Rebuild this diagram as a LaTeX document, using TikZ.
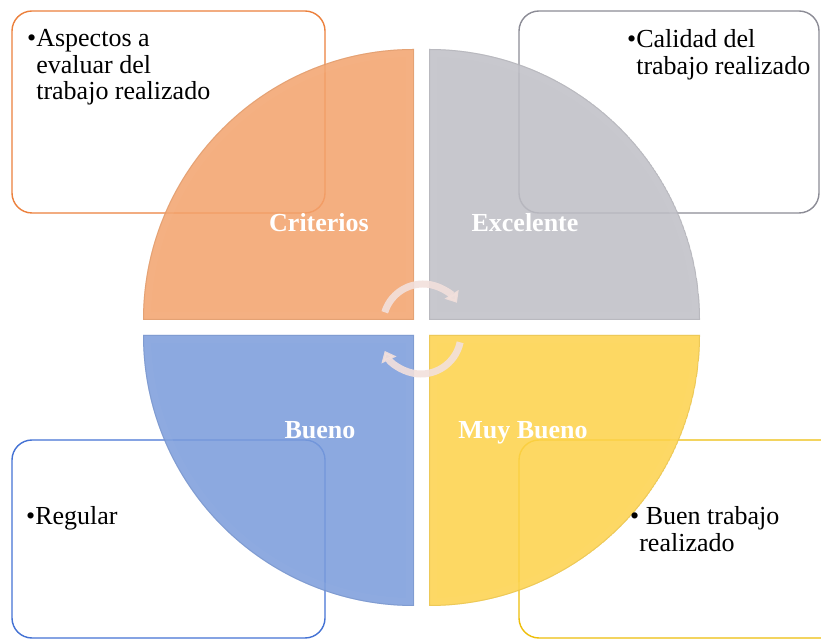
\documentclass[tikz,border=0pt]{standalone}
\usepackage{fontspec}
\setmainfont{Liberation Serif}
\usepackage{xcolor}
\usetikzlibrary{arrows.meta, positioning}
\definecolor{naranja}{RGB}{243,162,108}
\definecolor{gris}{RGB}{190,190,197}
\definecolor{azul}{RGB}{122,156,220}
\definecolor{amarillo}{RGB}{253,210,74}
\definecolor{naranjaborde}{RGB}{236,128,60}
\definecolor{grisborde}{RGB}{140,140,150}
\definecolor{azulborde}{RGB}{68,114,212}
\definecolor{amarilloborde}{RGB}{238,190,10}
\definecolor{rosa}{RGB}{242,224,220}
\tikzstyle{notebox} = [rounded corners=20pt, fill=white, line width=1.4pt]
\tikzstyle{notetext} = [anchor=base west, inner sep=0pt, text=black,
    font=\fontsize{26}{26.5}\selectfont]
\tikzstyle{wedgetitle} = [anchor=base, inner sep=0pt, text=white,
    font=\fontsize{26}{28}\selectfont\bfseries]
\tikzstyle{cyclearrow} = [line width=7pt, draw=rosa, opacity=.9,
    -{Triangle[width=16pt,length=10pt]}]

\begin{document}
\begin{tikzpicture}[x=1pt, y=1pt]
    \useasboundingbox (0,0) rectangle (821,639);
    \clip (0,0) rectangle (821,639);
    \fill[white] (0,0) rectangle (821,639);

    \draw[notebox, draw=naranjaborde] (12,426) rectangle (325,628);
    \draw[notebox, draw=grisborde] (519,426) rectangle (819,628);
    \draw[notebox, draw=azulborde] (12,1) rectangle (325,199);
    \draw[notebox, draw=amarilloborde] (519,1) rectangle (850,199);

    \foreach \qx/\qy/\qa/\qc in {414/319/90/naranja, 429/319/0/gris,
        414/304/180/azul, 429/304/270/amarillo}{
      \begin{scope}
        \clip (\qx,\qy) -- ++(\qa:271) arc[start angle=\qa, delta angle=90, radius=271] -- cycle;
        \fill[\qc, opacity=.86] (\qx,\qy) -- ++(\qa:271) arc[start angle=\qa, delta angle=90, radius=271] -- cycle;
        \draw[\qc!80!white, line width=16pt, opacity=.25] (\qx,\qy) -- ++(\qa:271) arc[start angle=\qa, delta angle=90, radius=271] -- cycle;
        \draw[\qc!80!black, line width=2pt, opacity=.3] (\qx,\qy) -- ++(\qa:271) arc[start angle=\qa, delta angle=90, radius=271] -- cycle;
      \end{scope}
    }

    \node[notetext] (criterios-txt) at (27,592)
      {\begin{tabular}[t]{@{}l@{}l@{}}\textbullet&Aspectos a\\&evaluar del\\&trabajo realizado\end{tabular}};
    \node[notetext] (excelente-txt) at (627,591)
      {\begin{tabular}[t]{@{}l@{}l@{}}\textbullet&Calidad del\\&trabajo realizado\end{tabular}};
    \node[notetext] (bueno-txt) at (26,114) {\textbullet Regular};
    \node[notetext] (muybueno-txt) at (630,114)
      {\begin{tabular}[t]{@{}l@{}l@{}}\textbullet&\ Buen trabajo\\&realizado\end{tabular}};

    \node[wedgetitle] (criterios) at (319,407) {Criterios};
    \node[wedgetitle] (excelente) at (525,407) {Excelente};
    \node[wedgetitle] (bueno) at (320,200) {Bueno};
    \node[wedgetitle] (muybueno) at (523,200) {Muy Bueno};

    \coordinate (giro-a) at (423,315);
    \coordinate (giro-b) at (421,305);
    \draw[cyclearrow] (giro-a) ++(163:40) arc[start angle=163, end angle=32, radius=40];
    \draw[cyclearrow] (giro-b) ++(-12:40) arc[start angle=-12, end angle=-155, radius=40];
\end{tikzpicture}
\end{document}
